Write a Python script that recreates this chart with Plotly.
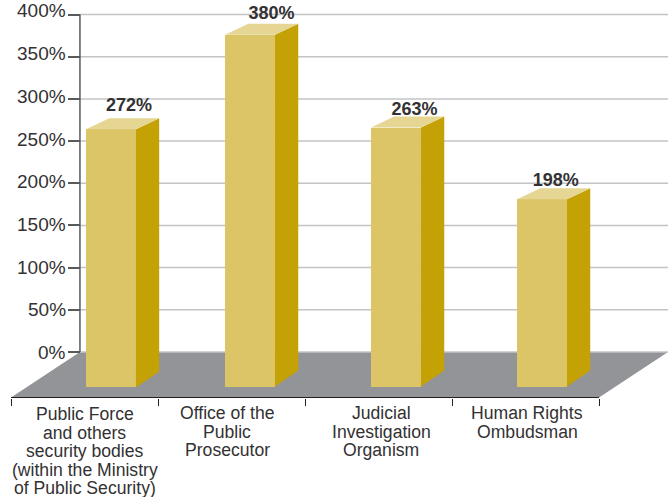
import plotly.graph_objects as go

# Data
category_lines = [
    ["Public Force", "and others", "security bodies", "(within the Ministry", "of Public Security)"],
    ["Office of the", "Public", "Prosecutor"],
    ["Judicial", "Investigation", "Organism"],
    ["Human Rights", "Ombudsman"],
]
value_labels = ["272%", "380%", "263%", "198%"]
bar_tops = [264, 376, 266, 181]          # height of the front face on the axis, %
bar_bases = [-42, -41, -41, -41]         # lower edge of the front face, %
bar_centers = [0.18, 0.126, 0.119, 0.112]  # offset from each category slot
label_x = [0.303, 0.272, 0.245, 0.205]
label_y = [290.6, 400, 286.6, 202]
category_label_x = [0.0, -0.03, 0.02, 0.01]
y_ticks = [0, 50, 100, 150, 200, 250, 300, 350, 400]
y_label_shift = [-1, 0, 0, 1, 2, 2, 2, 3, 4.5]   # printed labels drift above their ticks

# Styling
FRONT, SIDE, TOP = "#dbc567", "#c4a105", "#e5d793"
FLOOR, GRID, AXIS, TEXT = "#929497", "#c3c4c6", "#58595b", "#333132"
WIDTH, HEIGHT = 668, 497
BAR_W = 0.34
DX = 0.158      # depth of the 3D effect along x, category units
DY_TOP = 13     # depth along y at top, %
DY_BOT = 19     # depth along y at the foot, %
FLOOR_LOW = -54
FLOOR_DX = 0.469
X_RANGE = [-0.5748, 3.969]
Y_RANGE = [-171.9, 417.2]

fig = go.Figure()

# Bars: front faces
xs = [i + c for i, c in enumerate(bar_centers)]
fig.add_trace(go.Bar(
    x=xs, y=[t - b for t, b in zip(bar_tops, bar_bases)], base=bar_bases,
    width=BAR_W, marker=dict(color=FRONT, line=dict(width=0)),
    hoverinfo="skip", showlegend=False))

# Bars: side and top faces
for x, t, b in zip(xs, bar_tops, bar_bases):
    l, r = x - BAR_W / 2, x + BAR_W / 2
    fig.add_trace(go.Scatter(
        x=[r, r + DX, r + DX, r, r], y=[b, b + DY_BOT, t + DY_TOP, t, b],
        mode="lines", fill="toself", fillcolor=SIDE, line=dict(width=0),
        hoverinfo="skip", showlegend=False))
    fig.add_trace(go.Scatter(
        x=[l, l + DX, r + DX, r, l], y=[t, t + DY_TOP, t + DY_TOP, t, t],
        mode="lines", fill="toself", fillcolor=TOP, line=dict(width=0),
        hoverinfo="skip", showlegend=False))

# Value labels
fig.add_trace(go.Scatter(
    x=[i + d for i, d in enumerate(label_x)], y=label_y, mode="text", text=value_labels,
    textposition="middle center", cliponaxis=False,
    textfont=dict(family="Liberation Sans", size=18, color=TEXT, weight="bold"),
    hoverinfo="skip", showlegend=False))

shapes = []
# Floor
x0, x1 = -0.5, 3.5
shapes.append(dict(type="path", layer="below", xref="x", yref="y",
                   path=f"M {x0} {FLOOR_LOW} L {x0 + FLOOR_DX} 0 L {x1 + FLOOR_DX} 0 L {x1} {FLOOR_LOW} Z",
                   fillcolor=FLOOR, line=dict(width=0)))
# Gridlines and axis lines
for v in y_ticks:
    shapes.append(dict(type="line", layer="below", xref="x", yref="y",
                       x0=x0 + FLOOR_DX, x1=X_RANGE[1], y0=v, y1=v,
                       line=dict(color=GRID, width=1.5)))
shapes.append(dict(type="line", layer="below", xref="x", yref="y",
                   x0=x0 + FLOOR_DX, x1=x0 + FLOOR_DX, y0=0, y1=max(y_ticks),
                   line=dict(color=AXIS, width=1.5)))
shapes.append(dict(type="line", layer="above", xref="x", yref="y",
                   x0=x0, x1=x1, y0=FLOOR_LOW, y1=FLOOR_LOW,
                   line=dict(color="#231f20", width=1)))

annotations = []
# Category labels, one line each for the tight leading
LINE_STEP = 18.6
FIRST_PX = 414
for i, lines in enumerate(category_lines):
    for n, line in enumerate(lines):
        annotations.append(dict(
            xref="x", yref="paper", x=i + category_label_x[i],
            y=1 - (FIRST_PX + n * LINE_STEP - (1 if i else 0)) / HEIGHT,
            text=line, showarrow=False, xanchor="center", yanchor="middle",
            font=dict(family="Liberation Sans", size=17.6, color=TEXT)))
# Value-axis labels
for v, s in zip(y_ticks, y_label_shift):
    annotations.append(dict(
        xref="paper", yref="y", x=67 / WIDTH, y=v, yshift=s,
        text=f"{v}%", showarrow=False, xanchor="right", yanchor="middle",
        xshift=0, borderpad=0, font=dict(family="Liberation Sans", size=19, color=TEXT)))

fig.update_layout(
    width=WIDTH, height=HEIGHT, margin=dict(l=0, r=0, t=0, b=0),
    paper_bgcolor="white", plot_bgcolor="rgba(0,0,0,0)",
    showlegend=False, shapes=shapes, annotations=annotations, bargap=0,
    xaxis=dict(range=X_RANGE, anchor="free", position=1 - 398 / HEIGHT,
               tickmode="array", tickvals=[-0.5, 0.5, 1.5, 2.5, 3.5],
               ticks="outside", ticklen=7, tickwidth=1, tickcolor="#231f20",
               showticklabels=False, showgrid=False, zeroline=False, showline=False),
    yaxis=dict(range=Y_RANGE, anchor="free", position=80 / WIDTH,
               tickmode="array", tickvals=y_ticks,
               ticks="outside", ticklen=12, tickwidth=1.5, tickcolor=AXIS,
               showticklabels=False, showgrid=False, zeroline=False, showline=False),
)

fig.write_html("out.html", config=dict(displayModeBar=False),
               post_script="document.body.style.margin='0';")
